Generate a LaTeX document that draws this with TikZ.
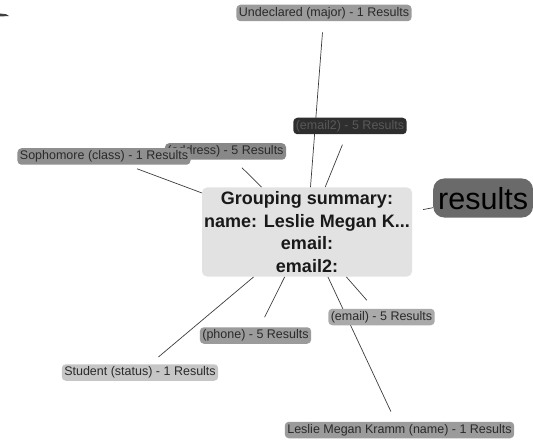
\documentclass[tikz,border=0pt]{standalone}
\usepackage{fontspec}
\setmainfont{Liberation Sans}
\usetikzlibrary{backgrounds}

\definecolor{leafgray}{HTML}{9B9B9B}
\definecolor{lightleaf}{HTML}{C6C6C6}
\definecolor{darkleaf}{HTML}{888888}
\definecolor{blackleaf}{HTML}{2E2E2E}
\definecolor{leaftext}{HTML}{2A2A2A}
\definecolor{centergray}{HTML}{E2E2E2}
\definecolor{resultgray}{HTML}{6A6A6A}
\definecolor{linkgray}{HTML}{3C3C3C}

\tikzset{
  leaf/.style={rounded corners=4pt, fill=leafgray, text=leaftext,
    font=\fontsize{12.5}{15}\selectfont, inner xsep=2.5pt, inner ysep=0pt,
    minimum height=16.5pt, text height=9.2pt, text depth=2.6pt},
  summary/.style={rounded corners=5pt, fill=centergray, text=black!90,
    font=\fontsize{18}{22.7}\bfseries\selectfont, align=center,
    minimum width=210pt, minimum height=89pt, inner sep=0pt},
  resultbox/.style={rounded corners=11pt, fill=resultgray, text=black,
    font=\fontsize{30.5}{32}\selectfont, inner xsep=5pt, inner ysep=0pt,
    minimum height=39pt, text height=22pt, text depth=0pt},
  link/.style={draw=linkgray, line width=0.7pt, shorten >=11pt},
}

\begin{document}
\begin{tikzpicture}[x=1pt, y=-1pt]
  \useasboundingbox (0,0) rectangle (533,441);

  % Grouping summary in the middle
  \node[summary] (summary) at (307,232)
    {Grouping summary:\\name: Leslie Megan K...\\email:\\email2:};
  \node[resultbox, anchor=west] (results) at (433,198) {results};

  % Result counts round the summary
  \node[leaf] (major) at (324,13) {Undeclared (major) - 1 Results};
  \node[leaf, fill=blackleaf, text=black!65] (mailtwo) at (350,126) {(email2) - 5 Results};
  \node[leaf, fill=darkleaf] (address) at (225.5,151.5) {(address) - 5 Results};
  \node[leaf, fill=leafgray!92!black] (class) at (104,156.5) {Sophomore (class) - 1 Results};
  \node[leaf, fill=leafgray!85!white] (email) at (381.5,317) {(email) - 5 Results};
  \node[leaf] (phone) at (255.5,335.5) {(phone) - 5 Results};
  \node[leaf, fill=lightleaf] (status) at (140,372.5) {Student (status) - 1 Results};
  \node[leaf] (name) at (399.5,430) {Leslie Megan Kramm (name) - 1 Results};

  % Links, kept under the boxes
  \begin{scope}[on background layer]
    \foreach \leafnode in {major, mailtwo, address, class, email, phone, status, name}
      \draw[link] (summary) -- (\leafnode);
    \draw[link] (results) -- (summary);
  \end{scope}

  % stray mark in the corner
  \fill[black!75] (0,13.5) -- (6,14.2) -- (9,16) -- (0,16.5) -- cycle;
\end{tikzpicture}
\end{document}
